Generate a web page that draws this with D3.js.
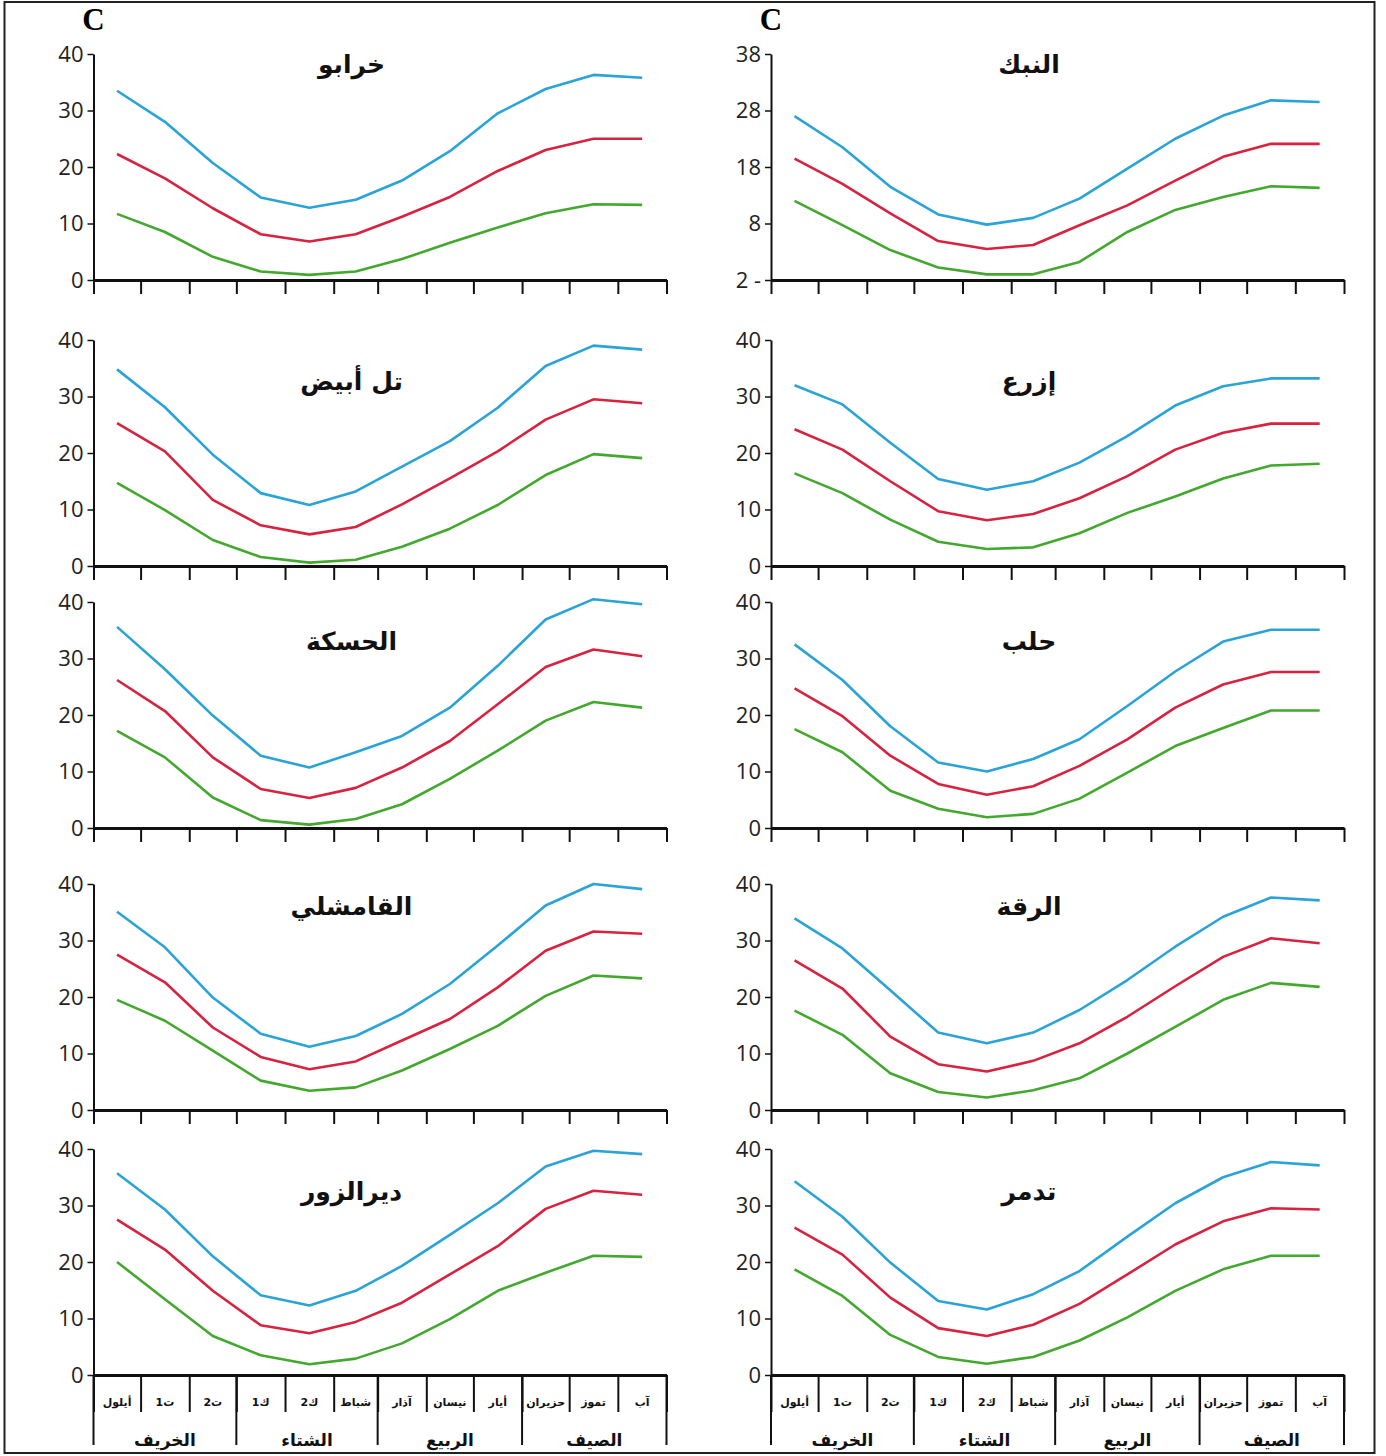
<!DOCTYPE html>
<html>
<head>
<meta charset="utf-8">
<script src="https://cdn.jsdelivr.net/npm/d3@7"></script>
<style>
  body { margin: 0; background: #fff; }
  svg { display: block; }
</style>
</head>
<body>
<div id="chart"></div>
<script>
// months from September to August, as on the original x axis
const months = ['أيلول', 'ت1', 'ت2', 'ك1', 'ك2', 'شباط', 'آذار', 'نيسان', 'أيار', 'حزيران', 'تموز', 'آب'];
const monthDays = [30, 31, 30, 31, 31, 28, 31, 30, 31, 30, 31, 31];
const seasons = ['الخريف', 'الشتاء', 'الربيع', 'الصيف'];

// stations, row by row (left panel, right panel)
const stations = ['خرابو', 'النبك', 'تل أبيض', 'إزرع', 'الحسكة', 'حلب', 'القامشلي', 'الرقة', 'ديرالزور', 'تدمر'];

const defaultTicks = [0, 10, 20, 30, 40];
const nabkTicks = [-2, 8, 18, 28, 38];

// maximum temperature (blue)
const maxTemp = [
  [33.5, 28, 20.7, 14.6, 12.8, 14.2, 17.6, 22.8, 29.5, 33.8, 36.3, 35.8],
  [27, 21.5, 14.5, 9.6, 7.8, 9, 12.4, 17.7, 23, 27.1, 29.8, 29.5],
  [34.8, 28.1, 19.7, 12.9, 10.8, 13.2, 17.6, 22.1, 28, 35.4, 39, 38.3],
  [32, 28.6, 21.8, 15.4, 13.5, 15, 18.3, 23, 28.4, 31.8, 33.2, 33.2],
  [35.6, 28.1, 19.9, 12.8, 10.7, 13.4, 16.3, 21.3, 28.7, 36.9, 40.5, 39.6],
  [32.5, 26.2, 18, 11.6, 10, 12.2, 15.7, 21.6, 27.7, 33, 35.1, 35.1],
  [35.1, 28.8, 19.9, 13.5, 11.2, 13.1, 17, 22.3, 29.1, 36.2, 40, 39.1],
  [33.9, 28.6, 21.2, 13.7, 11.8, 13.7, 17.7, 23, 28.9, 34.2, 37.6, 37.1],
  [35.7, 29.3, 21, 14.1, 12.3, 14.9, 19.3, 24.8, 30.4, 36.9, 39.7, 39.1],
  [34.3, 28, 19.9, 13.1, 11.6, 14.3, 18.4, 24.5, 30.4, 35, 37.7, 37.1]
];

// mean temperature (red)
const meanTemp = [
  [22.3, 18, 12.7, 8.1, 6.8, 8.1, 11.2, 14.7, 19.3, 23, 25, 25],
  [19.5, 15, 9.8, 4.9, 3.5, 4.2, 7.7, 11.2, 15.6, 19.8, 22.1, 22.1],
  [25.3, 20.3, 11.7, 7.2, 5.6, 6.9, 10.9, 15.5, 20.3, 25.9, 29.5, 28.8],
  [24.2, 20.6, 15, 9.7, 8.1, 9.2, 12, 15.9, 20.6, 23.6, 25.2, 25.2],
  [26.2, 20.7, 12.5, 6.9, 5.3, 7.1, 10.7, 15.4, 21.9, 28.5, 31.6, 30.4],
  [24.7, 19.8, 12.8, 7.8, 5.9, 7.4, 11, 15.7, 21.3, 25.4, 27.6, 27.6],
  [27.5, 22.6, 14.6, 9.4, 7.2, 8.6, 12.3, 16.1, 21.7, 28.2, 31.6, 31.2],
  [26.5, 21.5, 13, 8.1, 6.8, 8.7, 11.8, 16.5, 21.9, 27.1, 30.4, 29.5],
  [27.5, 22.2, 14.9, 8.8, 7.4, 9.4, 12.8, 17.8, 22.8, 29.4, 32.6, 31.9],
  [26.1, 21.3, 13.7, 8.3, 6.9, 8.9, 12.6, 17.8, 23.1, 27.2, 29.5, 29.3]
];

// minimum temperature (green)
const minTemp = [
  [11.7, 8.5, 4.1, 1.5, 0.9, 1.5, 3.7, 6.6, 9.3, 11.8, 13.4, 13.3],
  [12, 7.7, 3.3, 0.2, -1, -1, 1.2, 6.5, 10.4, 12.7, 14.6, 14.3],
  [14.7, 9.9, 4.6, 1.6, 0.6, 1.1, 3.4, 6.6, 10.8, 16.1, 19.8, 19.1],
  [16.4, 12.9, 8.2, 4.3, 3, 3.3, 5.8, 9.4, 12.3, 15.5, 17.8, 18.1],
  [17.2, 12.5, 5.4, 1.4, 0.6, 1.6, 4.2, 8.7, 13.7, 19, 22.3, 21.3],
  [17.5, 13.4, 6.6, 3.4, 1.9, 2.5, 5.2, 9.8, 14.5, 17.7, 20.8, 20.8],
  [19.5, 15.8, 10.5, 5.2, 3.4, 4, 7, 10.8, 14.9, 20.2, 23.8, 23.3],
  [17.6, 13.3, 6.5, 3.2, 2.2, 3.5, 5.6, 10, 14.7, 19.5, 22.5, 21.8],
  [20, 13.4, 6.9, 3.5, 1.9, 2.9, 5.6, 9.9, 14.9, 18.1, 21.1, 20.9],
  [18.7, 14, 7.1, 3.2, 2, 3.2, 6.1, 10.2, 14.9, 18.7, 21.1, 21.1]
];

// layout
const width = 1386;
const height = 1456;
const colX = [93.5, 771];
const plotW = 573;
const rowY = [54, 340, 602, 884, 1149];
const plotH = 226;
const titleDy = [10, 41, 39, 22, 42];
const colors = { max: '#2aa3d8', mean: '#d9223f', min: '#43a82e' };

const svg = d3.select('#chart')
  .append('svg')
  .attr('width', width)
  .attr('height', height);

// outer frame
svg.append('rect')
  .attr('x', 4.5)
  .attr('y', 2)
  .attr('width', 1370)
  .attr('height', 1451)
  .attr('fill', 'none')
  .attr('stroke', '#222')
  .attr('stroke-width', 2);

// column "C" labels
colX.forEach(x => {
  svg.append('text')
    .attr('x', x)
    .attr('y', 30)
    .attr('text-anchor', 'middle')
    .attr('font-family', 'Liberation Serif, DejaVu Serif, serif')
    .attr('font-weight', 'bold')
    .attr('font-size', 31)
    .text('C');
});

// month boundaries (in days) and month centres
const bounds = [0, ...d3.cumsum(monthDays)];
const mids = monthDays.map((d, i) => bounds[i] + d / 2);
const seasonBounds = [0, 3, 6, 9, 12].map(i => bounds[i]);

stations.forEach((name, k) => {
  const row = Math.floor(k / 2);
  const col = k % 2;
  const x0 = colX[col];
  const y0 = rowY[row];
  const ticks = name === 'النبك' ? nabkTicks : defaultTicks;

  const x = d3.scaleLinear()
    .domain([0, bounds[12]])
    .range([x0, x0 + plotW]);

  const y = d3.scaleLinear()
    .domain([ticks[0], ticks[ticks.length - 1]])
    .range([y0 + plotH, y0]);

  const g = svg.append('g').attr('class', 'panel');
  const last = row === rowY.length - 1;

  // x axis
  const axisX = d3.axisBottom(x)
    .tickValues(bounds)
    .tickSize(last ? 37 : 14)
    .tickSizeOuter(0)
    .tickFormat('');
  const gx = g.append('g')
    .attr('transform', `translate(0, ${y0 + plotH})`)
    .call(axisX);
  gx.select('.domain').attr('stroke', '#111').attr('stroke-width', 3);
  gx.selectAll('.tick line').attr('stroke', '#111').attr('stroke-width', 2);

  // y axis
  const axisY = d3.axisLeft(y)
    .tickValues(ticks)
    .tickSize(6)
    .tickSizeOuter(0)
    .tickPadding(4)
    .tickFormat(d => d < 0 ? `${-d} -` : d);
  const gy = g.append('g')
    .attr('transform', `translate(${x0}, 0)`)
    .call(axisY);
  gy.select('.domain').attr('stroke', '#111').attr('stroke-width', 2);
  gy.selectAll('.tick line').attr('stroke', '#111').attr('stroke-width', 1.5);
  gy.selectAll('.tick text')
    .attr('font-family', 'Open Sans, sans-serif')
    .attr('font-size', 22)
    .attr('fill', '#222');

  // temperature lines
  const line = d3.line()
    .x((d, i) => x(mids[i]))
    .y(d => y(d));

  [['max', maxTemp], ['mean', meanTemp], ['min', minTemp]].forEach(([key, arr]) => {
    g.append('path')
      .datum(arr[k])
      .attr('d', line)
      .attr('fill', 'none')
      .attr('stroke', colors[key])
      .attr('stroke-width', 2.6)
      .attr('stroke-linejoin', 'round');
  });

  // station name
  g.append('text')
    .attr('x', x0 + 258)
    .attr('y', y0 + titleDy[row] + 9)
    .attr('text-anchor', 'middle')
    .attr('direction', 'rtl')
    .attr('font-family', 'DejaVu Sans, sans-serif')
    .attr('font-weight', 'bold')
    .attr('font-size', 25)
    .attr('fill', '#111')
    .text(name);

  // month and season labels under the bottom row
  if (last) {
    g.selectAll('.month')
      .data(months)
      .enter()
      .append('text')
      .attr('class', 'month')
      .attr('x', (d, i) => x(mids[i]))
      .attr('y', y0 + plotH + 31)
      .attr('text-anchor', 'middle')
      .attr('font-family', 'DejaVu Sans, sans-serif')
      .attr('font-weight', 'bold')
      .attr('font-size', 11)
      .attr('fill', '#111')
      .text(d => d);

    g.selectAll('.season-line')
      .data(seasonBounds)
      .enter()
      .append('line')
      .attr('x1', d => x(d))
      .attr('x2', d => x(d))
      .attr('y1', y0 + plotH)
      .attr('y2', y0 + plotH + 70)
      .attr('stroke', '#111')
      .attr('stroke-width', 2);

    g.selectAll('.season')
      .data(seasons)
      .enter()
      .append('text')
      .attr('class', 'season')
      .attr('x', (d, i) => (x(seasonBounds[i]) + x(seasonBounds[i + 1])) / 2)
      .attr('y', y0 + plotH + 71)
      .attr('text-anchor', 'middle')
      .attr('font-family', 'DejaVu Sans, sans-serif')
      .attr('font-weight', 'bold')
      .attr('font-size', 17)
      .attr('fill', '#111')
      .text(d => d);
  }
});
</script>
</body>
</html>
